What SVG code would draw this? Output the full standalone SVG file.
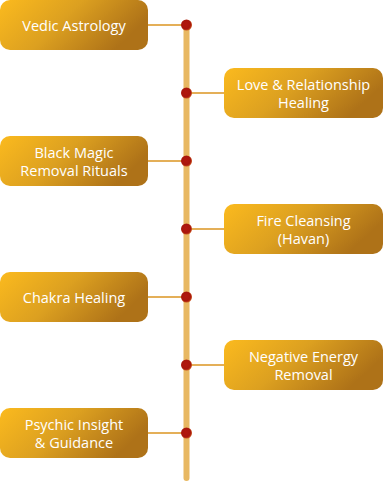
<svg xmlns="http://www.w3.org/2000/svg" width="383" height="482" viewBox="0 0 383 482">
<defs>
<linearGradient id="g" x1="0" y1="0" x2="1" y2="0.35">
<stop offset="0" stop-color="#FBBA1E"/>
<stop offset="0.5" stop-color="#DCA020"/>
<stop offset="1" stop-color="#AE7218"/>
</linearGradient>
<radialGradient id="d" cx="0.45" cy="0.45" r="0.55">
<stop offset="0" stop-color="#B3180E"/>
<stop offset="0.75" stop-color="#A8160C"/>
<stop offset="1" stop-color="#C8501E"/>
</radialGradient>
</defs>
<style>
.box{fill:url(#g);}
.t{fill:#FFFFFF;font-family:"Open Sans","Noto Sans",sans-serif;font-size:14.5px;text-anchor:middle;}
.c{stroke:#E4AF58;stroke-width:2;fill:none;}
.dot{fill:url(#d);}
</style>
<g id="connectors">
<line x1="186.5" y1="25" x2="186.5" y2="478" stroke="#E8B862" stroke-width="6" stroke-linecap="round"/>
<line class="c" x1="147" y1="25" x2="186" y2="25"/>
<line class="c" x1="187" y1="93" x2="224" y2="93"/>
<line class="c" x1="147" y1="161" x2="186" y2="161"/>
<line class="c" x1="187" y1="229" x2="224" y2="229"/>
<line class="c" x1="147" y1="297" x2="186" y2="297"/>
<line class="c" x1="187" y1="365" x2="224" y2="365"/>
<line class="c" x1="147" y1="433" x2="186" y2="433"/>
<circle class="dot" cx="186.5" cy="25" r="5.5"/>
<circle class="dot" cx="186.5" cy="93" r="5.5"/>
<circle class="dot" cx="186.5" cy="161" r="5.5"/>
<circle class="dot" cx="186.5" cy="229" r="5.5"/>
<circle class="dot" cx="186.5" cy="297" r="5.5"/>
<circle class="dot" cx="186.5" cy="365" r="5.5"/>
<circle class="dot" cx="186.5" cy="433" r="5.5"/>
</g>
<g id="n1"><rect class="box" x="0" y="0" width="148" height="50" rx="10"/><text class="t" x="74" y="30.5">Vedic Astrology</text></g>
<g id="n2"><rect class="box" x="224" y="68" width="159" height="50" rx="10"/><text class="t" x="303.5" y="90">Love &amp; Relationship</text><text class="t" x="303.5" y="108">Healing</text></g>
<g id="n3"><rect class="box" x="0" y="136" width="148" height="50" rx="10"/><text class="t" x="74" y="158">Black Magic</text><text class="t" x="74" y="176">Removal Rituals</text></g>
<g id="n4"><rect class="box" x="224" y="204" width="159" height="50" rx="10"/><text class="t" x="303.5" y="226">Fire Cleansing</text><text class="t" x="303.5" y="244">(Havan)</text></g>
<g id="n5"><rect class="box" x="0" y="272" width="148" height="50" rx="10"/><text class="t" x="74" y="302.5">Chakra Healing</text></g>
<g id="n6"><rect class="box" x="224" y="340" width="159" height="50" rx="10"/><text class="t" x="303.5" y="362">Negative Energy</text><text class="t" x="303.5" y="380">Removal</text></g>
<g id="n7"><rect class="box" x="0" y="408" width="148" height="50" rx="10"/><text class="t" x="74" y="430">Psychic Insight</text><text class="t" x="74" y="448">&amp; Guidance</text></g>
</svg>
